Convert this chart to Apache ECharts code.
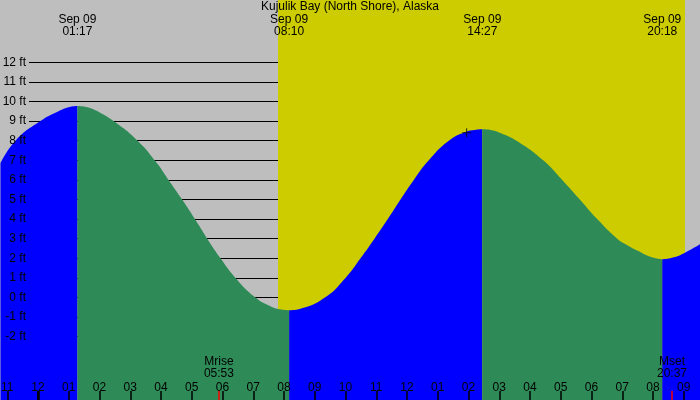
<!DOCTYPE html>
<html>
<head>
<meta charset="utf-8">
<script src="https://cdn.jsdelivr.net/npm/echarts@6/dist/echarts.min.js"></script>
<style>
html,body{margin:0;padding:0;background:#BEBEBE;}
#chart{width:700px;height:400px;}
</style>
</head>
<body>
<div id="chart"></div>
<script>
// ---- data (hours since midnight Sep 09, feet) ----
const titleText = 'Kujulik Bay (North Shore), Alaska';
const tideTimes = [-1.22, -0.73, 0.08, 0.73, 1.0, 1.283, 1.6, 1.87, 2.455, 3.236, 3.821, 4.244, 4.699, 5.122, 5.545, 5.935, 6.423, 7.073, 7.561, 7.85, 8.167, 8.537, 9.33, 10.0, 10.488, 10.943, 11.376, 11.789, 12.221, 12.709, 13.359, 13.902, 14.2, 14.45, 14.75, 15.04, 15.561, 16.429, 17.047, 17.62, 18.185, 18.836, 19.15, 19.486, 19.919, 20.3, 20.65, 20.992, 21.545];
const tideFeet  = [6.85, 8.0, 9.0, 9.55, 9.71, 9.77, 9.71, 9.55, 9.0, 8.0, 6.95, 6.0, 4.97, 3.95, 2.9, 2.0, 1.0, 0.0, -0.45, -0.6, -0.65, -0.57, 0.0, 1.0, 2.0, 3.0, 4.0, 5.0, 6.0, 7.0, 8.0, 8.45, 8.55, 8.58, 8.54, 8.4, 8.0, 7.0, 6.0, 5.0, 4.0, 3.0, 2.68, 2.4, 2.08, 1.95, 2.04, 2.25, 2.73];
const extremeTimes  = [1.283, 8.167, 14.45, 20.3];
const extremeLabels = ['Sep 09\n01:17', 'Sep 09\n08:10', 'Sep 09\n14:27', 'Sep 09\n20:18'];
const sunTimes = [7.805, 21.04];               // sunrise, sunset
const moonTimes  = [5.883, 20.617];            // moonrise, moonset
const moonLabels = ['Mrise\n05:53', 'Mset\n20:37'];
const midnightTimes = [0];
const hourTickLabels = ['10','11','12','01','02','03','04','05','06','07','08','09','10','11','12','01','02','03','04','05','06','07','08','09','10'];
const feetTicks = [-2, 12];
const nowPoint = [13.94, 8.41];

// ---- build segments (rising = blue, falling = green) ----
const bounds = [-Infinity].concat(extremeTimes, [Infinity]);
const segments = [];
for (let i = 0; i < bounds.length - 1; i++) {
  const pts = [];
  for (let k = 0; k < tideTimes.length; k++) {
    if (tideTimes[k] >= bounds[i] && tideTimes[k] <= bounds[i + 1]) pts.push([tideTimes[k], tideFeet[k]]);
  }
  if (pts.length > 1) segments.push({ data: pts, rising: i % 2 === 0 });
}

const FONT = 'Liberation Sans';
const txt = { color: '#000', fontFamily: FONT, fontSize: 12 };

const fillSeries = segments.map(s => ({
  type: 'line', xAxisIndex: 0, yAxisIndex: 0, data: s.data,
  symbol: 'none', smooth: 0.5,
  lineStyle: { width: 0 },
  areaStyle: { color: s.rising ? '#0000FF' : '#2E8B57', opacity: 1, origin: 'start' },
  silent: true, z: 2, animation: false
}));

const xBase = { type: 'value', min: -2, max: 22, interval: 1, splitLine: { show: false }, axisLine: { show: false, onZero: false }, axisTick: { show: false } };
const gridBase = { left: -23.5, right: -14.5, containLabel: false, outerBoundsMode: 'none' };

const option = {
  animation: false,
  backgroundColor: '#BEBEBE',
  title: { text: titleText, left: 'center', top: 0, padding: [1, 0, 0, 0], textStyle: Object.assign({ fontWeight: 'normal' }, txt) },
  grid: [
    Object.assign({}, gridBase, { top: 0, bottom: 0 }),
    { left: 29, right: 15, top: 62.3, bottom: 63.3, containLabel: false, outerBoundsMode: 'none' },
    Object.assign({}, gridBase, { top: 391, bottom: 0 })
  ],
  xAxis: [
    Object.assign({}, xBase, {
      gridIndex: 0, position: 'bottom', z: 5,
      axisLabel: Object.assign({ inside: true, margin: 6, hideOverlap: false, formatter: v => hourTickLabels[Math.round(v) + 2] }, txt)
    }),
    Object.assign({}, xBase, {
      gridIndex: 0, position: 'top', z: 5,
      axisLabel: Object.assign({ inside: true, margin: 14, lineHeight: 12, customValues: extremeTimes,
        formatter: v => extremeLabels[extremeTimes.indexOf(v)] }, txt)
    }),
    Object.assign({}, xBase, {
      gridIndex: 0, position: 'bottom', z: 5,
      axisLabel: Object.assign({ inside: true, margin: 20, lineHeight: 12, customValues: moonTimes,
        formatter: v => moonLabels[moonTimes.indexOf(v)] }, txt)
    }),
    { type: 'value', gridIndex: 1, min: -2, max: 22, show: false },
    Object.assign({}, xBase, {
      gridIndex: 2, position: 'bottom', z: 10,
      axisLabel: { show: false },
      splitLine: { show: true, lineStyle: { color: '#000000', width: 1.5, opacity: 1 } }
    })
  ],
  yAxis: [
    { type: 'value', gridIndex: 0, min: -5.23, max: 15.18, show: false },
    { type: 'value', gridIndex: 1, position: 'left', offset: 0, min: feetTicks[0], max: feetTicks[1], interval: 1, z: 1,
      axisLine: { show: false }, axisTick: { show: false }, axisLabel: { show: false },
      splitLine: { show: true, lineStyle: { color: '#000', width: 1 } } },
    { type: 'value', gridIndex: 1, position: 'left', offset: 0, min: feetTicks[0], max: feetTicks[1], interval: 1, z: 5,
      axisLine: { show: false }, axisTick: { show: false }, splitLine: { show: false },
      axisLabel: Object.assign({ margin: 3, formatter: v => v + ' ft' }, txt) },
    { type: 'value', gridIndex: 2, min: 0, max: 1, show: false }
  ],
  series: [
    { type: 'line', xAxisIndex: 0, yAxisIndex: 0, data: [], z: 0, silent: true,
      markArea: { silent: true, itemStyle: { color: '#CCCC00', opacity: 1 },
        data: [[{ xAxis: sunTimes[0] }, { xAxis: sunTimes[1] }]] } }
  ].concat(fillSeries, [
    { type: 'scatter', xAxisIndex: 0, yAxisIndex: 0, data: [nowPoint], z: 4, silent: true,
      symbol: 'path://M0,4h9v1h-9z M4,0h1v9h-1z', symbolSize: [9, 9], itemStyle: { color: '#000' } },
    { type: 'line', xAxisIndex: 4, yAxisIndex: 3, data: [], z: 11, silent: true,
      markLine: { silent: true, symbol: 'none', label: { show: false }, animation: false,
        data: moonTimes.map(t => ({ xAxis: t, lineStyle: { color: '#FF0000', width: 1.5, type: 'solid' } }))
          .concat(midnightTimes.map(t => ({ xAxis: t, lineStyle: { color: '#000', width: 2.5, type: 'solid' } }))) } }
  ])
};

const chart = echarts.init(document.getElementById('chart'), null, { renderer: 'canvas' });
chart.setOption(option);
</script>
</body>
</html>
